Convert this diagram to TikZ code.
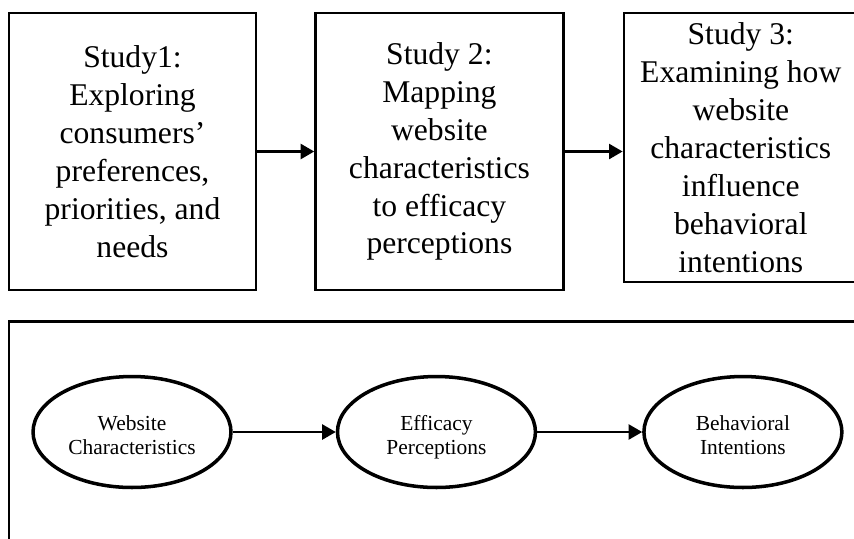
\documentclass[tikz,border=0pt]{standalone}
\usepackage{fontspec}
\setmainfont{Liberation Serif}
\usetikzlibrary{arrows.meta,positioning,shapes.geometric}

\begin{document}
\begin{tikzpicture}[
    x=0.02cm, y=-0.02cm,
    study/.style={draw, line width=1.4pt, align=center, inner sep=0pt, minimum height=5.54cm, font=\fontsize{18}{21.6}\selectfont},
    construct/.style={draw, ellipse, line width=2pt, minimum width=3.96cm, minimum height=2.22cm, inner sep=0pt, align=center, text height=26pt, text depth=0pt, font=\fontsize{12.2}{14}\selectfont},
    arr/.style={-{Triangle[length=0.27cm, width=0.3cm]}, line width=1.3pt}
]
    \useasboundingbox (0,0) rectangle (854,538);
    \clip (0,0) rectangle (854,538);

    \node[study, minimum width=4.94cm] (study1) at (132.5,151.5) {Study1:\\Exploring\\consumers'\\preferences,\\priorities, and\\needs};
    \node[study, minimum width=4.96cm, right=1.14cm of study1] (study2) {Study 2:\\Mapping\\website\\characteristics\\to efficacy\\perceptions};
    \node[study, minimum width=4.68cm, minimum height=5.38cm, right=1.16cm of study2.north east, anchor=north west] (study3) {Study 3:\\Examining how\\website\\characteristics\\influence\\behavioral\\intentions};

    \draw[arr] (study1) -- (study2);
    \draw[arr] (study2.east) -- (study2.east -| study3.west);

    \draw[line width=1.4pt] (9,321.5) rectangle (880,560);

    \node[construct] (website) at (132,432) {Website\\Characteristics};
    \node[construct, right=2.06cm of website] (efficacy) {Efficacy\\Perceptions};
    \node[construct, right=2.1cm of efficacy] (intentions) {Behavioral\\Intentions};

    \draw[arr] (website) -- (efficacy);
    \draw[arr] (efficacy) -- (intentions);
\end{tikzpicture}
\end{document}
